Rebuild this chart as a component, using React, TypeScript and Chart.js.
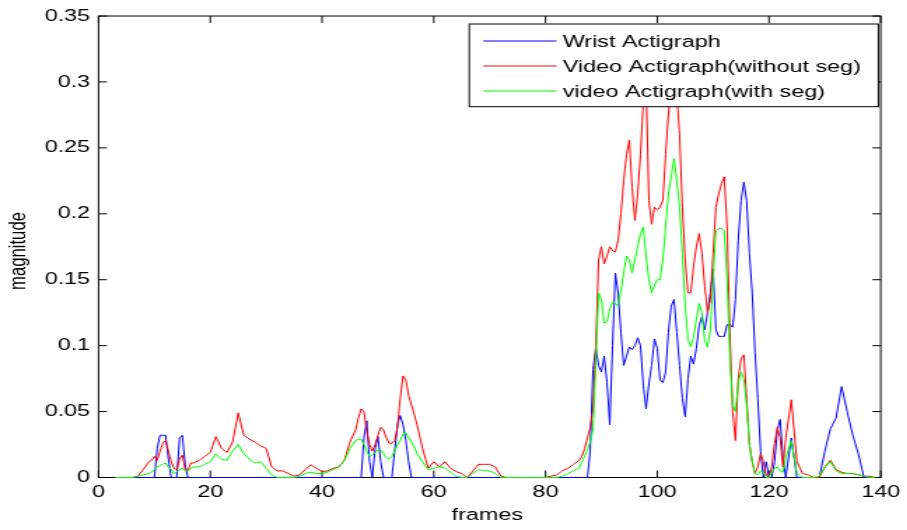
import React, { useEffect, useRef } from "react";
import { Chart, registerables } from "chart.js";

Chart.register(...registerables);

// Horizontal stretch of the reference picture (its text and lines are wider than tall)
const SX = 1.4;
const CW = 648;
const CH = 530;
const FONT = "'Liberation Sans', Arial, Helvetica, sans-serif";
const FSIZE = 16.7;

function range(a: number, b: number, step: number): number[] {
  const out: number[] = [];
  for (let v = a; v <= b + 1e-9; v += step) out.push(Math.round(v * 10) / 10);
  return out;
}

// frame positions (finer sampling where the curves move fast)
const frames: number[] = [
  ...range(3, 9, 1),
  ...range(9.5, 17, 0.5),
  ...range(18, 46, 1),
  ...range(46.5, 57, 0.5),
  ...range(58, 86, 1),
  ...range(86.5, 123, 0.5),
  ...range(124, 139, 1),
];

const seriesLabels = ["Wrist Actigraph", "Video Actigraph(without seg)", "video Actigraph(with seg)"];
const seriesColors = ["#0000ff", "#ff0000", "#00ff00"];

const wrist: number[] = [
  // 3-9
  0, 0, 0, 0, 0, 0, 0,
  // 9.5-17
  0, 0, 0.022, 0.032, 0.032, 0.032, 0.014, 0, 0, 0, 0.03, 0.032, 0.01, 0, 0, 0,
  // 18-46
  0, 0, 0, 0, 0, 0, 0, 0, 0, 0, 0, 0, 0, 0, 0, 0, 0, 0, 0, 0, 0, 0, 0, 0, 0, 0, 0, 0, 0,
  // 46.5-57
  0, 0, 0.03, 0.043, 0.012, 0, 0.022, 0.031, 0.012, 0, 0, 0, 0, 0.02, 0.04, 0.047, 0.04, 0.028, 0.012, 0, 0, 0,
  // 58-86
  0, 0, 0, 0, 0, 0, 0, 0, 0, 0, 0, 0, 0, 0, 0, 0, 0, 0, 0, 0, 0, 0, 0, 0, 0, 0, 0, 0, 0,
  // 86.5-123
  0, 0, 0, 0.02,
  0.082, 0.098, 0.085, 0.08,
  0.092, 0.072, 0.04, 0.1,
  0.155, 0.14, 0.11, 0.085,
  0.092, 0.099, 0.097, 0.1,
  0.106, 0.1, 0.07, 0.052,
  0.071, 0.085, 0.105, 0.098,
  0.074, 0.072, 0.08, 0.11,
  0.13, 0.135, 0.11, 0.085,
  0.06, 0.046, 0.075, 0.092,
  0.086, 0.098, 0.115, 0.122,
  0.112, 0.125, 0.14, 0.158,
  0.112, 0.107, 0.107, 0.107,
  0.116, 0.116, 0.114, 0.135,
  0.18, 0.21, 0.224, 0.21,
  0.17, 0.14, 0.095, 0.06,
  0.02, 0, 0.012, 0,
  0, 0.012, 0.036, 0.044,
  0.015, 0,
  // 124-139
  0.03, 0, 0, 0, 0, 0, 0.02, 0.037, 0.045, 0.069, 0.05, 0.032, 0.018, 0, 0, 0,
];

const videoNoSeg: number[] = [
  // 3-9
  0, 0, 0, 0, 0.001, 0.006, 0.012,
  // 9.5-17
  0.013, 0.016, 0.013, 0.02, 0.026, 0.028, 0.02, 0.012, 0.007, 0.006, 0.014, 0.017, 0.006, 0.005, 0.011, 0.011,
  // 18-46
  0.013, 0.016, 0.019, 0.031, 0.022, 0.019, 0.027, 0.049, 0.032, 0.029,
  0.027, 0.024, 0.022, 0.008, 0.005, 0.005, 0.003, 0.001, 0.002, 0.006,
  0.0096, 0.007, 0.0045, 0.005, 0.007, 0.008, 0.013, 0.027, 0.036,
  // 46.5-57
  0.045, 0.052, 0.05, 0.035, 0.025, 0.02, 0.025, 0.032, 0.038, 0.036, 0.03,
  0.026, 0.026, 0.028, 0.038, 0.06, 0.077, 0.074, 0.062, 0.055, 0.048, 0.04,
  // 58-86
  0.022, 0.007, 0.012, 0.008, 0.012, 0.007, 0.0045, 0.003, 0, 0.005,
  0.01, 0.01, 0.01, 0.008, 0.001, 0, 0, 0, 0, 0,
  0, 0, 0, 0.001, 0.002, 0.005, 0.007, 0.01, 0.013,
  // 86.5-123
  0.016, 0.022, 0.03, 0.038,
  0.052, 0.1, 0.165, 0.175,
  0.162, 0.168, 0.175, 0.172,
  0.171, 0.18, 0.2, 0.225,
  0.245, 0.256, 0.22, 0.195,
  0.215, 0.245, 0.285, 0.3,
  0.21, 0.192, 0.205, 0.203,
  0.205, 0.21, 0.245, 0.275,
  0.3, 0.31, 0.29, 0.26,
  0.205, 0.165, 0.14, 0.14,
  0.16, 0.175, 0.185, 0.17,
  0.145, 0.125, 0.135, 0.17,
  0.205, 0.215, 0.223, 0.228,
  0.19, 0.11, 0.05, 0.028,
  0.075, 0.09, 0.093, 0.06,
  0.025, 0.012, 0.003, 0.008,
  0.018, 0.012, 0.002, 0,
  0.008, 0.026, 0.038, 0.03,
  0.008, 0.03,
  // 124-139
  0.059, 0.012, 0.003, 0.002, 0, 0, 0.008, 0.013, 0.006, 0.004, 0.003, 0.003, 0.002, 0.001, 0.001, 0,
];

const videoSeg: number[] = [
  // 3-9
  0, 0, 0, 0, 0.001, 0.002, 0.003,
  // 9.5-17
  0.004, 0.006, 0.008, 0.009, 0.01, 0.011, 0.008, 0.006, 0.003, 0.004, 0.006, 0.007, 0.005, 0.005, 0.007, 0.008,
  // 18-46
  0.008, 0.01, 0.012, 0.018, 0.014, 0.013, 0.02, 0.025, 0.018, 0.014,
  0.011, 0.012, 0.007, 0.002, 0, 0, 0, 0, 0.001, 0.003,
  0.004, 0.003, 0.003, 0.004, 0.006, 0.008, 0.013, 0.022, 0.028,
  // 46.5-57
  0.029, 0.029, 0.025, 0.02, 0.016, 0.017, 0.019, 0.021, 0.021, 0.018, 0.015,
  0.014, 0.016, 0.02, 0.025, 0.028, 0.033, 0.034, 0.03, 0.027, 0.023, 0.018,
  // 58-86
  0.012, 0.006, 0.007, 0.008, 0.007, 0.004, 0.001, 0, 0, 0.003,
  0.006, 0.005, 0.005, 0.003, 0, 0, 0, 0, 0, 0,
  0, 0, 0, 0, 0, 0.001, 0.003, 0.005, 0.007,
  // 86.5-123
  0.012, 0.016, 0.021, 0.027,
  0.036, 0.085, 0.14, 0.135,
  0.117, 0.118, 0.128, 0.133,
  0.132, 0.13, 0.142, 0.155,
  0.168, 0.165, 0.155, 0.165,
  0.175, 0.185, 0.19, 0.168,
  0.15, 0.14, 0.146, 0.15,
  0.15, 0.165, 0.19, 0.215,
  0.228, 0.242, 0.225, 0.205,
  0.17, 0.13, 0.105, 0.099,
  0.106, 0.12, 0.132, 0.125,
  0.104, 0.099, 0.112, 0.15,
  0.187, 0.189, 0.189, 0.187,
  0.15, 0.09, 0.055, 0.05,
  0.072, 0.08, 0.075, 0.055,
  0.025, 0.012, 0.003, 0.002,
  0.005, 0.004, 0, 0,
  0.004, 0.007, 0.008, 0.005,
  0.004, 0.015,
  // 124-139
  0.028, 0.003, 0, 0, 0, 0.001, 0.008, 0.012, 0.005, 0.003, 0.003, 0.003, 0.002, 0.001, 0, 0,
];

const seriesValues = [wrist, videoNoSeg, videoSeg];

const xTitle = "frames";
const yTitle = "magnitude";

const framePlugin = {
  id: "matlabFrame",
  beforeDatasetsDraw(chart: any) {
    const { ctx, chartArea: a, scales } = chart;
    ctx.save();
    ctx.strokeStyle = "#000";
    ctx.lineWidth = 1;
    ctx.strokeRect(a.left, a.top, a.right - a.left, a.bottom - a.top);
    ctx.beginPath();
    for (const t of scales.y.ticks) {
      const py = scales.y.getPixelForValue(t.value);
      ctx.moveTo(a.left, py);
      ctx.lineTo(a.left + 6, py);
      ctx.moveTo(a.right, py);
      ctx.lineTo(a.right - 6, py);
    }
    for (const t of scales.x.ticks) {
      const px = scales.x.getPixelForValue(t.value);
      ctx.moveTo(px, a.bottom);
      ctx.lineTo(px, a.bottom - 7);
      ctx.moveTo(px, a.top);
      ctx.lineTo(px, a.top + 7);
    }
    ctx.stroke();
    ctx.restore();
  },
};

const legendPlugin = {
  id: "insideLegend",
  afterDatasetsDraw(chart: any) {
    const { ctx } = chart;
    const bx = 335.2, by = 24, bw = 292.2, bh = 82.7;
    ctx.save();
    ctx.fillStyle = "#fff";
    ctx.fillRect(bx, by, bw, bh);
    ctx.strokeStyle = "#000";
    ctx.lineWidth = 1;
    ctx.strokeRect(bx, by, bw, bh);
    ctx.font = `${FSIZE}px ${FONT}`;
    ctx.textBaseline = "middle";
    ctx.textAlign = "left";
    seriesLabels.forEach((label, i) => {
      const y = 41 + i * 25;
      ctx.strokeStyle = seriesColors[i];
      ctx.beginPath();
      ctx.moveTo(345.2, y);
      ctx.lineTo(397.6, y);
      ctx.stroke();
      ctx.fillStyle = "#000";
      ctx.fillText(label, 401.9, y + 1);
    });
    ctx.restore();
  },
};

const titlesPlugin = {
  id: "axisTitles",
  afterDraw(chart: any) {
    const { ctx } = chart;
    ctx.save();
    ctx.fillStyle = "#000";
    ctx.font = `${FSIZE}px ${FONT}`;
    ctx.textAlign = "center";
    ctx.textBaseline = "middle";
    ctx.fillText(xTitle, 348, 515);
    ctx.translate(13.5, 251);
    ctx.rotate(-Math.PI / 2);
    ctx.fillText(yTitle, 0, 0);
    ctx.restore();
  },
};

export default function App() {
  const ref = useRef<HTMLCanvasElement>(null);

  useEffect(() => {
    document.body.style.margin = "0";
    document.body.style.background = "#fff";
    const canvas = ref.current;
    if (!canvas) return;
    const orders = [3, 2, 1];
    const datasets = seriesValues.map((vals, i) => ({
      label: seriesLabels[i],
      data: frames.map((f, j) => ({ x: f, y: vals[j] })),
      borderColor: seriesColors[i],
      backgroundColor: seriesColors[i],
      borderWidth: 1,
      pointRadius: 0,
      tension: 0,
      fill: false,
      clip: 2,
      order: orders[i],
    }));
    const tickFont = { family: FONT, size: FSIZE };
    const chart = new Chart(canvas, {
      type: "line",
      data: { datasets },
      options: {
        responsive: false,
        maintainAspectRatio: false,
        animation: false,
        devicePixelRatio: 1,
        events: [],
        layout: { padding: { left: 0, right: 15.5, top: 15.5, bottom: 0 } },
        plugins: { legend: { display: false }, tooltip: { enabled: false } },
        scales: {
          x: {
            type: "linear",
            min: 0,
            max: 140,
            ticks: { stepSize: 20, padding: 5, font: tickFont, color: "#000", maxRotation: 0, autoSkip: false },
            grid: { display: false, drawTicks: false },
            border: { display: false },
            afterFit: (s: any) => {
              s.height = 52.5;
            },
          },
          y: {
            type: "linear",
            min: 0,
            max: 0.35,
            ticks: {
              stepSize: 0.05,
              padding: 6,
              font: tickFont,
              color: "#000",
              callback: (v: any) => String(Number(Number(v).toFixed(2))),
            },
            grid: { display: false, drawTicks: false },
            border: { display: false },
            afterFit: (s: any) => {
              s.width = 70.4;
            },
          },
        },
      } as any,
      plugins: [framePlugin, legendPlugin, titlesPlugin],
    });
    return () => chart.destroy();
  }, []);

  return (
    <div style={{ width: CW, height: CH, transform: `scaleX(${SX})`, transformOrigin: "0 0" }}>
      <canvas ref={ref} width={CW} height={CH} style={{ width: CW, height: CH, display: "block" }} />
    </div>
  );
}
